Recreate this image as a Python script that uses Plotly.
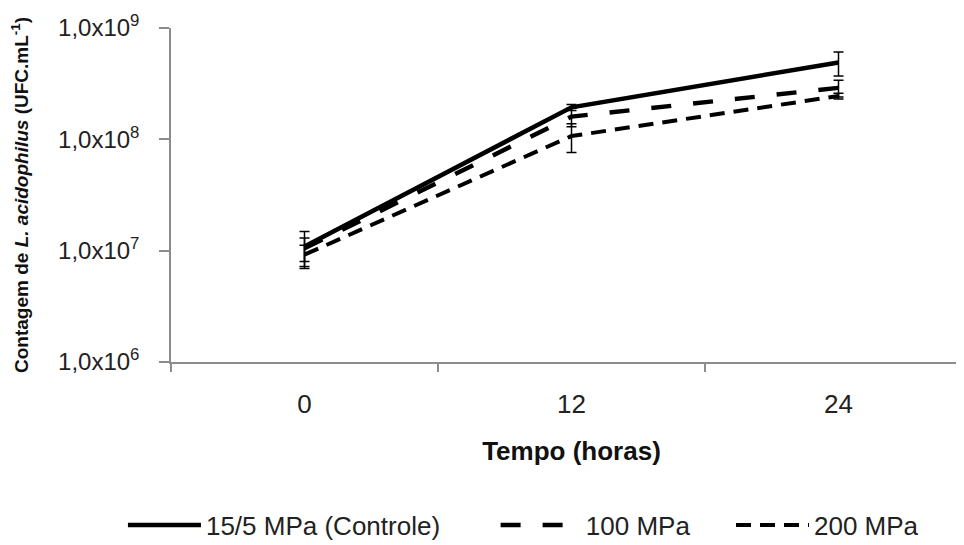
import plotly.graph_objects as go

categories = ["0", "12", "24"]
series_names = ["15/5 MPa (Controle)", "100 MPa", "200 MPa"]
controle = [1.09e7, 1.94e8, 4.9e8]
controle_err = [0.40e7, 0.12e8, 1.2e8]
mpa100 = [1.05e7, 1.60e8, 2.9e8]
mpa100_err = [0.25e7, 0.30e8, 0.5e8]
mpa200 = [0.92e7, 1.07e8, 2.45e8]
mpa200_err = [0.20e7, 0.31e8, 0.15e8]
ytick_vals = [1e6, 1e7, 1e8, 1e9]
ytick_text = ["1,0x10<sup>6</sup>", "1,0x10<sup>7</sup>", "1,0x10<sup>8</sup>", "1,0x10<sup>9</sup>"]

styles = [("solid", 4.5), ("20px,22px", 4.5), ("15px,9px", 4)]
legend_pre = ["", "&nbsp;", ""]
legend_post = ["&nbsp;" * 7, "&nbsp;" * 5, ""]
vals = [controle, mpa100, mpa200]
errs = [controle_err, mpa100_err, mpa200_err]

fig = go.Figure()
for name, pre, post, v, e, (dash, w) in zip(series_names, legend_pre, legend_post, vals, errs, styles):
    fig.add_trace(go.Scatter(
        x=categories, y=v, name=pre + name + post, mode="lines",
        line=dict(color="black", width=w, dash=dash),
        error_y=dict(type="data", array=e, color="black", thickness=1.5, width=5, visible=True),
    ))

font_family = "Liberation Sans, Arial"
fig.update_layout(
    width=964, height=545,
    margin=dict(l=163, r=0, t=20, b=191, autoexpand=False),
    paper_bgcolor="white", plot_bgcolor="white",
    font=dict(family=font_family, color="#222", size=18),
    showlegend=True,
    legend=dict(orientation="h", x=-0.06, xanchor="left", y=-0.488, yanchor="middle",
                font=dict(size=26, color="#222"), itemwidth=73, traceorder="normal"),
    xaxis=dict(
        type="category", range=[-0.5, 2.5],
        showline=True, linecolor="#8c8c8c", linewidth=1.5, showgrid=False, zeroline=False,
        ticks="outside", tickson="boundaries", ticklen=8, tickcolor="#8c8c8c", tickwidth=1.5,
        tickfont=dict(size=26, color="#222"), ticklabelstandoff=18, automargin=False,
        title=dict(text="<b>Tempo (horas)</b>", font=dict(size=26, color="#111"), standoff=24),
    ),
    yaxis=dict(
        type="log", range=[6, 9], tickmode="array", tickvals=ytick_vals, ticktext=ytick_text,
        showline=True, linecolor="#8c8c8c", linewidth=1.5, showgrid=False, zeroline=False,
        ticks="outside", ticklen=10, tickcolor="#8c8c8c", tickwidth=1.5,
        tickfont=dict(size=24, color="#222"), ticklabelstandoff=15, automargin=False,
        title=dict(text="<b>Contagem de <i>L. acidophilus</i> (UFC.mL<sup>-1</sup>)</b>",
                   font=dict(size=19, color="#111"), standoff=30),
    ),
)

fig.write_html("out.html")
